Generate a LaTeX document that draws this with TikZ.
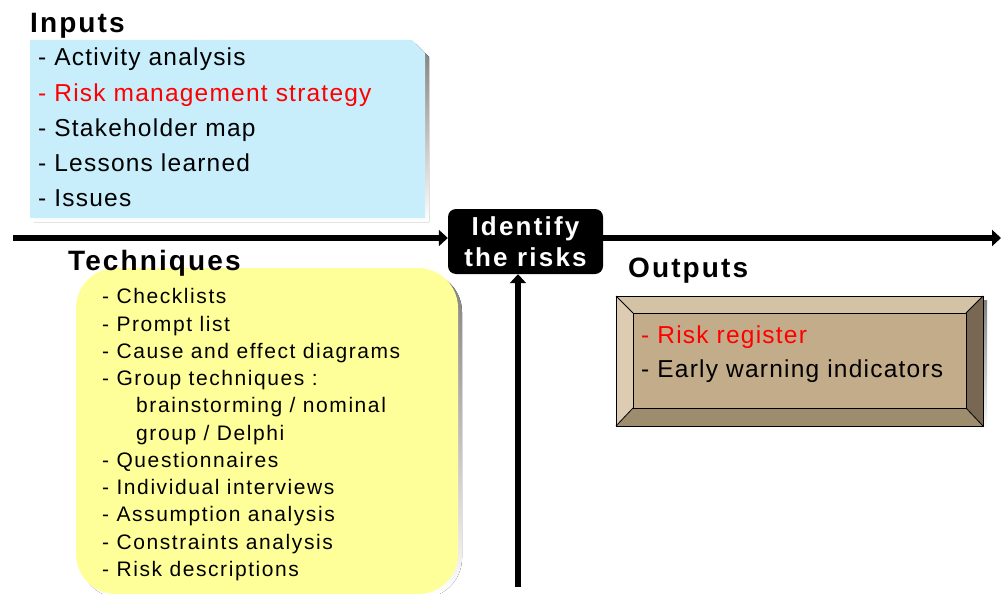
\documentclass[tikz,border=0pt]{standalone}
\usepackage{fontspec}
\setmainfont{Liberation Sans}
\newfontfamily\itemfont[LetterSpace=5]{Liberation Sans}
\newfontfamily\techfont[LetterSpace=7.5]{Liberation Sans}
\newfontfamily\headfont[LetterSpace=7.5]{Liberation Sans}
\newfontfamily\procfont[LetterSpace=8.5]{Liberation Sans}
\usetikzlibrary{arrows.meta}
\definecolor{inbg}{HTML}{C8EEFB}
\definecolor{techbg}{HTML}{FFFF99}
\definecolor{shade}{HTML}{A8A8A8}
\definecolor{bevface}{HTML}{C3AC89}
\definecolor{bevtop}{HTML}{D3C2A4}
\definecolor{bevleft}{HTML}{DDCCB2}
\definecolor{bevright}{HTML}{776753}
\definecolor{bevbottom}{HTML}{9E8C6F}
\definecolor{riskred}{HTML}{FF0000}
\tikzset{
  heading/.style={anchor=base west, inner sep=0pt, font=\headfont\fontsize{28}{32}\selectfont\bfseries},
  initem/.style={anchor=base west, inner sep=0pt, font=\itemfont\fontsize{24.5}{28}\selectfont},
  techitem/.style={anchor=base west, inner sep=0pt, font=\techfont\fontsize{21}{24}\selectfont},
  flow/.style={line width=6pt, -{Triangle[length=9pt,width=16pt]}},
}
\begin{document}
\begin{tikzpicture}[x=1pt,y=-1pt]
\useasboundingbox (0,0) rectangle (1001,594);

% Inputs panel with a clipped corner and a drop shadow
\fill[shade] (34,44) -- (416,44) -- (429,57) -- (429,222) -- (34,222) -- cycle;
\fill[inbg] (30,40) -- (412,40) -- (425,53) -- (425,218) -- (30,218) -- cycle;
\node[heading] (inputs) at (30,33) {Inputs};
\node[initem] (i1) at (38,66) {- Activity analysis};
\node[initem, text=riskred] (i2) at (38,101) {- Risk management strategy};
\node[initem] (i3) at (38,136) {- Stakeholder map};
\node[initem] (i4) at (38,171) {- Lessons learned};
\node[initem] (i5) at (38,206) {- Issues};

% Techniques panel
\fill[shade, rounded corners=40pt] (80,272) rectangle (462,598);
\fill[techbg, rounded corners=40pt] (76,268) rectangle (458,594);
\node[heading] (techniques) at (68,270) {Techniques};
\node[techitem] (t1) at (102,303) {- Checklists};
\node[techitem] (t2) at (102,331) {- Prompt list};
\node[techitem] (t3) at (102,358) {- Cause and effect diagrams};
\node[techitem] (t4) at (102,385) {- Group techniques :};
\node[techitem] (t5) at (136,412) {brainstorming / nominal};
\node[techitem] (t6) at (136,440) {group / Delphi};
\node[techitem] (t7) at (102,467) {- Questionnaires};
\node[techitem] (t8) at (102,494) {- Individual interviews};
\node[techitem] (t9) at (102,521) {- Assumption analysis};
\node[techitem] (t10) at (102,549) {- Constraints analysis};
\node[techitem] (t11) at (102,576) {- Risk descriptions};

% Outputs panel: bevelled frame
\fill[shade] (620,300) rectangle (987,430);
\fill[bevtop] (616,296) -- (983,296) -- (966,313) -- (633,313) -- cycle;
\fill[bevleft] (616,296) -- (633,313) -- (633,408) -- (616,426) -- cycle;
\fill[bevright] (983,296) -- (983,426) -- (966,408) -- (966,313) -- cycle;
\fill[bevbottom] (616,426) -- (633,408) -- (966,408) -- (983,426) -- cycle;
\fill[bevface] (633,313) rectangle (966,408);
\draw[line width=1pt] (616,296) rectangle (983,426);
\draw[line width=0.8pt] (633,313) rectangle (966,408);
\draw[line width=0.8pt] (616,296) -- (633,313) (983,296) -- (966,313)
  (616,426) -- (633,408) (983,426) -- (966,408);
\node[heading] (outputs) at (628,277) {Outputs};
\node[initem, text=riskred] (o1) at (641,343) {- Risk register};
\node[initem] (o2) at (641,377) {- Early warning indicators};

% Central process
\node[fill=black, text=white, rounded corners=8pt, minimum width=155pt, minimum height=65pt,
  inner sep=0pt, align=center, font=\procfont\fontsize{26}{31}\selectfont\bfseries]
  (id) at (525.5,241.5) {Identify\\the risks};

\coordinate (inStart) at (13,238);
\coordinate (outEnd) at (1001,238);
\coordinate (techStart) at (518,587);
\draw[flow] (inStart) -- (inStart -| id.west);
\draw[flow] (id.east |- outEnd) -- (outEnd);
\draw[flow] (techStart) -- (techStart |- id.south);
\end{tikzpicture}
\end{document}
